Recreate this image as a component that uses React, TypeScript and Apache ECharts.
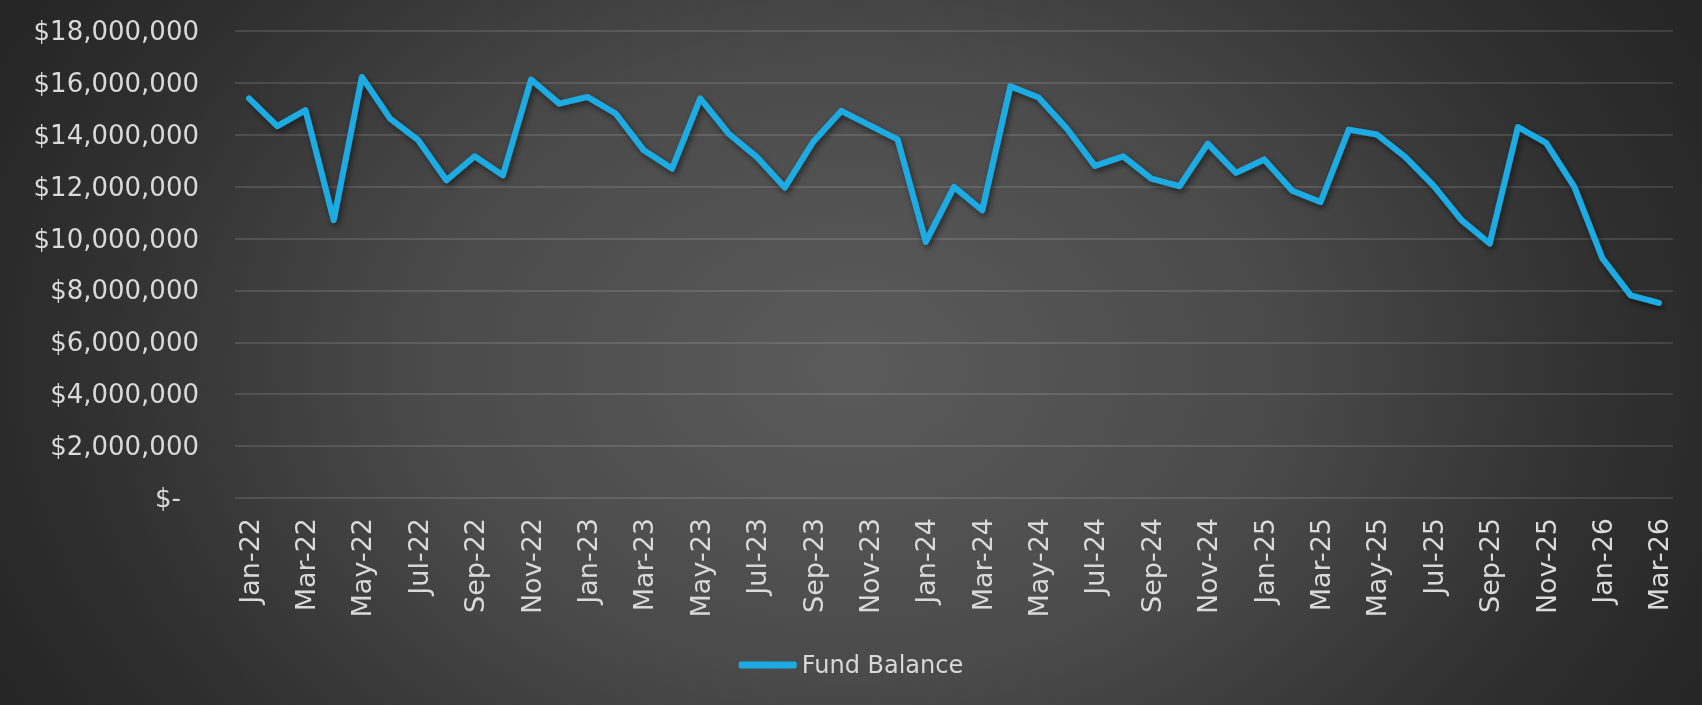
import React, { useEffect, useRef } from "react";
import * as echarts from "echarts";

const months: string[] = [
  "Jan-22", "Feb-22", "Mar-22", "Apr-22", "May-22", "Jun-22", "Jul-22", "Aug-22", "Sep-22", "Oct-22", "Nov-22", "Dec-22",
  "Jan-23", "Feb-23", "Mar-23", "Apr-23", "May-23", "Jun-23", "Jul-23", "Aug-23", "Sep-23", "Oct-23", "Nov-23", "Dec-23",
  "Jan-24", "Feb-24", "Mar-24", "Apr-24", "May-24", "Jun-24", "Jul-24", "Aug-24", "Sep-24", "Oct-24", "Nov-24", "Dec-24",
  "Jan-25", "Feb-25", "Mar-25", "Apr-25", "May-25", "Jun-25", "Jul-25", "Aug-25", "Sep-25", "Oct-25", "Nov-25", "Dec-25",
  "Jan-26", "Feb-26", "Mar-26",
];

const fundBalance: number[] = [
  15400000, 14330000, 14950000, 10710000, 16230000, 14620000, 13790000, 12250000, 13170000, 12440000, 16130000, 15200000,
  15460000, 14820000, 13400000, 12700000, 15400000, 14050000, 13150000, 11970000, 13720000, 14920000, 14370000, 13820000,
  9870000, 11990000, 11090000, 15870000, 15440000, 14240000, 12800000, 13170000, 12310000, 12020000, 13660000, 12530000,
  13050000, 11840000, 11410000, 14200000, 14010000, 13150000, 12050000, 10710000, 9810000, 14300000, 13690000, 11990000,
  9230000, 7810000, 7520000,
];

const seriesName = "Fund Balance";
const yMin = 0;
const yMax = 18000000;
const yStep = 2000000;

const FONT = "DejaVu Sans";
const LABEL = "#d9d9d9";

export default function App() {
  const ref = useRef<HTMLDivElement>(null);
  useEffect(() => {
    if (!ref.current) return;
    const chart = echarts.init(ref.current, null, { renderer: "svg" });
    chart.setOption({
      animation: false,
      backgroundColor: "transparent",
      grid: { left: 235, right: 29, top: 31, bottom: 207, containLabel: false },
      legend: {
        data: [{ name: seriesName, icon: "roundRect" }],
        left: "center",
        top: 648,
        itemWidth: 58,
        itemHeight: 7,
        textStyle: { color: LABEL, fontFamily: FONT, fontSize: 24 },
      },
      xAxis: {
        type: "category",
        data: months,
        boundaryGap: true,
        axisLine: { show: false },
        axisTick: { show: false },
        axisLabel: {
          interval: 1,
          rotate: 90,
          margin: 20,
          color: LABEL,
          fontFamily: FONT,
          fontSize: 27,
        },
        splitLine: { show: false },
      },
      yAxis: {
        type: "value",
        min: yMin,
        max: yMax,
        interval: yStep,
        axisLine: { show: false },
        axisTick: { show: false },
        splitLine: { lineStyle: { color: "rgba(255,255,255,0.16)", width: 1.5 } },
        axisLabel: {
          margin: 36,
          color: LABEL,
          fontFamily: FONT,
          fontSize: 26,
          formatter: (v: number) =>
            v === 0 ? "{z|$-}" : "$" + v.toLocaleString("en-US"),
          rich: {
            z: { color: LABEL, fontFamily: FONT, fontSize: 26, padding: [0, 18, 0, 0] },
          },
        },
      },
      series: [
        {
          name: seriesName,
          type: "line",
          data: fundBalance,
          symbol: "none",
          itemStyle: { color: "#1babe2" },
          lineStyle: {
            color: "#1babe2",
            width: 6,
            cap: "round",
            join: "round",
            shadowColor: "rgba(0,0,0,0.55)",
            shadowBlur: 6,
            shadowOffsetX: 2,
            shadowOffsetY: 3,
          },
        },
      ],
    });
    return () => chart.dispose();
  }, []);
  return (
    <div
      ref={ref}
      style={{
        position: "fixed",
        left: 0,
        top: 0,
        width: 1702,
        height: 705,
        background:
          "radial-gradient(ellipse 950px 700px at 50% 52%, #5b5b5b 0%, #4a4a4a 45%, #303030 80%, #262626 100%)",
      }}
    />
  );
}
